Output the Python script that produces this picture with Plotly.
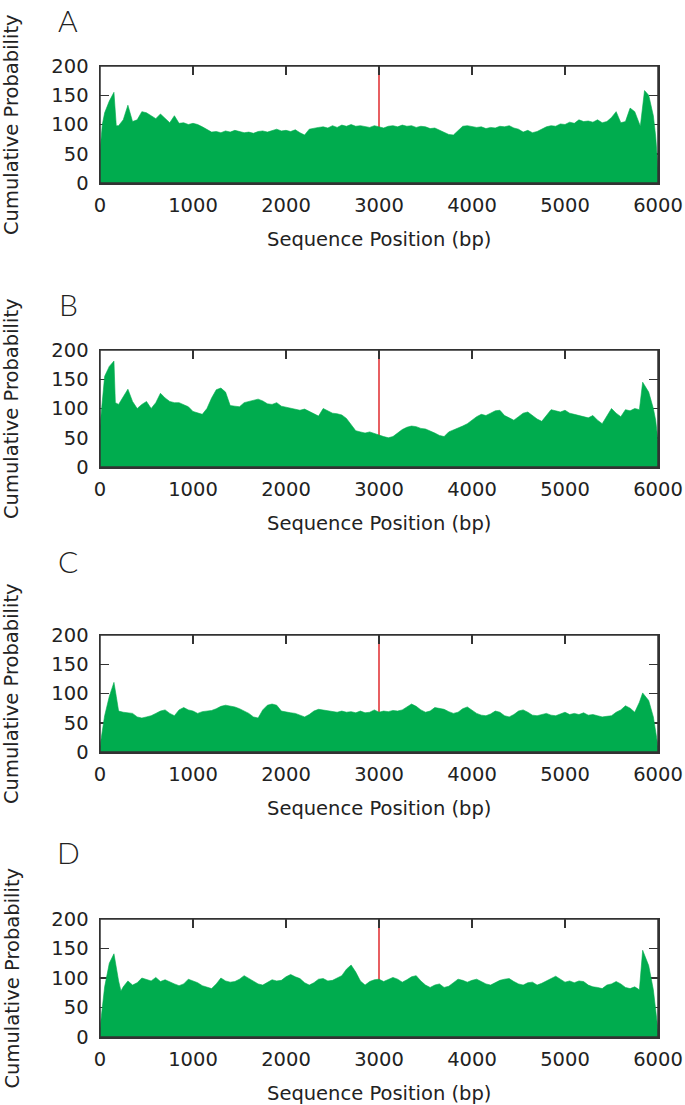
import plotly.graph_objects as go

# ---------------- data ----------------
pos_a = [0, 25, 50, 100, 150, 175, 200, 250, 300, 350, 400, 450, 500, 550, 600, 650, 700, 750, 800, 850,
         900, 950, 1000, 1050, 1100, 1150, 1200, 1250, 1300, 1350, 1400, 1450, 1500, 1550, 1600, 1650, 1700,
         1750, 1800, 1850, 1900, 1950, 2000, 2050, 2100, 2150, 2200, 2250, 2300, 2350, 2400, 2450, 2500,
         2550, 2600, 2650, 2700, 2750, 2800, 2850, 2900, 2950, 3000, 3050, 3100, 3150, 3200, 3250, 3300,
         3350, 3400, 3450, 3500, 3550, 3600, 3650, 3700, 3750, 3800, 3850, 3900, 3950, 4000, 4050, 4100,
         4150, 4200, 4250, 4300, 4350, 4400, 4450, 4500, 4550, 4600, 4650, 4700, 4750, 4800, 4850, 4900,
         4950, 5000, 5050, 5100, 5150, 5200, 5250, 5300, 5350, 5400, 5450, 5500, 5550, 5600, 5650, 5700,
         5750, 5810, 5855, 5900, 5950, 5975, 6000]
val_a = [55, 100, 120, 140, 155, 98, 98, 108, 133, 105, 108, 122, 120, 115, 110, 118, 110, 103, 115, 102,
         103, 100, 102, 100, 96, 92, 87, 88, 86, 89, 87, 90, 88, 86, 87, 85, 88,
         89, 87, 90, 92, 89, 90, 88, 91, 86, 82, 92, 94, 95, 96, 94, 98,
         95, 99, 97, 100, 97, 98, 96, 95, 98, 96, 94, 97, 98, 96, 99, 97,
         98, 95, 97, 96, 93, 94, 90, 87, 83, 82, 90, 97, 98, 97, 95, 96,
         93, 95, 94, 97, 96, 98, 94, 92, 87, 90, 86, 88, 92, 96, 98, 97,
         101, 100, 104, 102, 108, 105, 106, 104, 108, 103, 105, 112, 122, 103, 105, 128,
         122, 97, 158, 150, 115, 80, 25]

pos_b = [0, 25, 50, 100, 150, 165, 200, 250, 300, 350, 400, 450, 500, 550, 600, 650, 700, 750, 800, 850,
         900, 950, 1000, 1050, 1100, 1150, 1200, 1250, 1300, 1350, 1400, 1450, 1500, 1550, 1600, 1650, 1700,
         1750, 1800, 1850, 1900, 1950, 2000, 2050, 2100, 2150, 2200, 2250, 2300, 2350, 2400, 2450, 2500,
         2550, 2600, 2650, 2700, 2750, 2800, 2850, 2900, 2950, 3000, 3050, 3100, 3150, 3200, 3250, 3300,
         3350, 3400, 3450, 3500, 3550, 3600, 3650, 3700, 3750, 3800, 3850, 3900, 3950, 4000, 4050, 4100,
         4150, 4200, 4250, 4300, 4350, 4400, 4450, 4500, 4550, 4600, 4650, 4700, 4750, 4800, 4850, 4900,
         4950, 5000, 5050, 5100, 5150, 5200, 5250, 5300, 5350, 5400, 5450, 5500, 5550, 5600, 5650, 5700,
         5750, 5800, 5835, 5900, 5950, 5975, 6000]
val_b = [70, 120, 155, 172, 181, 110, 107, 120, 133, 112, 100, 107, 112, 100, 110, 126, 118, 112, 110, 110,
         107, 103, 95, 92, 90, 100, 118, 132, 135, 128, 105, 104, 103, 110, 112, 115, 116,
         113, 108, 107, 110, 104, 102, 101, 99, 97, 99, 95, 90, 87, 100, 96, 92,
         91, 89, 83, 72, 62, 60, 58, 60, 57, 55, 52, 50, 52, 58, 64, 68,
         70, 69, 66, 65, 62, 58, 54, 52, 60, 63, 66, 70, 74, 80, 86, 90,
         88, 92, 96, 97, 88, 84, 80, 86, 92, 94, 88, 82, 78, 88, 98, 96,
         94, 97, 92, 90, 88, 86, 84, 88, 80, 74, 86, 100, 92, 86, 98, 96,
         100, 98, 145, 128, 100, 80, 45]

pos_c = [0, 25, 50, 100, 150, 175, 200, 250, 300, 350, 400, 450, 500, 550, 600, 650, 700, 750, 800, 850,
         900, 950, 1000, 1050, 1100, 1150, 1200, 1250, 1300, 1350, 1400, 1450, 1500, 1550, 1600, 1650, 1700,
         1750, 1800, 1850, 1900, 1950, 2000, 2050, 2100, 2150, 2200, 2250, 2300, 2350, 2400, 2450, 2500,
         2550, 2600, 2650, 2700, 2750, 2800, 2850, 2900, 2950, 3000, 3050, 3100, 3150, 3200, 3250, 3300,
         3350, 3400, 3450, 3500, 3550, 3600, 3650, 3700, 3750, 3800, 3850, 3900, 3950, 4000, 4050, 4100,
         4150, 4200, 4250, 4300, 4350, 4400, 4450, 4500, 4550, 4600, 4650, 4700, 4750, 4800, 4850, 4900,
         4950, 5000, 5050, 5100, 5150, 5200, 5250, 5300, 5350, 5400, 5450, 5500, 5550, 5600, 5650, 5700,
         5750, 5800, 5835, 5900, 5950, 5975, 6000]
val_c = [10, 40, 62, 95, 119, 95, 70, 68, 67, 66, 60, 58, 60, 62, 66, 70, 72, 66, 62, 72,
         76, 72, 70, 66, 69, 70, 71, 74, 78, 80, 79, 77, 74, 70, 66, 60, 58,
         72, 80, 82, 80, 70, 68, 67, 66, 63, 60, 64, 70, 73, 72, 70, 69,
         68, 70, 68, 69, 67, 70, 67, 68, 72, 68, 70, 69, 71, 70, 72, 77,
         82, 78, 72, 68, 70, 76, 74, 73, 69, 66, 68, 74, 77, 72, 66, 63,
         62, 65, 70, 68, 62, 60, 64, 70, 72, 68, 63, 62, 64, 66, 63, 62,
         65, 68, 64, 66, 64, 67, 63, 64, 62, 60, 61, 62, 68, 72, 79, 75,
         68, 85, 101, 88, 60, 35, 10]

pos_d = [0, 25, 50, 100, 150, 200, 225, 250, 300, 350, 400, 450, 500, 550, 600, 650, 700, 750, 800, 850,
         900, 950, 1000, 1050, 1100, 1150, 1200, 1250, 1300, 1350, 1400, 1450, 1500, 1550, 1600, 1650, 1700,
         1750, 1800, 1850, 1900, 1950, 2000, 2050, 2100, 2150, 2200, 2250, 2300, 2350, 2400, 2450, 2500,
         2550, 2600, 2650, 2700, 2750, 2800, 2850, 2900, 2950, 3000, 3050, 3100, 3150, 3200, 3250, 3300,
         3350, 3400, 3450, 3500, 3550, 3600, 3650, 3700, 3750, 3800, 3850, 3900, 3950, 4000, 4050, 4100,
         4150, 4200, 4250, 4300, 4350, 4400, 4450, 4500, 4550, 4600, 4650, 4700, 4750, 4800, 4850, 4900,
         4950, 5000, 5050, 5100, 5150, 5200, 5250, 5300, 5350, 5400, 5450, 5500, 5550, 5600, 5650, 5700,
         5750, 5800, 5835, 5900, 5950, 5975, 6000]
val_d = [15, 50, 85, 125, 141, 95, 78, 85, 95, 88, 92, 100, 98, 95, 101, 94, 97, 93, 90, 87,
         90, 98, 95, 92, 87, 85, 82, 90, 100, 95, 93, 94, 98, 104, 99, 94, 90,
         88, 92, 97, 95, 96, 102, 106, 102, 99, 92, 88, 92, 98, 99, 95, 96,
         100, 104, 115, 122, 110, 95, 88, 94, 97, 98, 94, 97, 101, 98, 93, 97,
         102, 104, 95, 88, 84, 88, 90, 84, 86, 92, 98, 96, 93, 96, 98, 94,
         90, 88, 92, 96, 98, 99, 94, 90, 88, 92, 93, 88, 91, 95, 100, 103,
         98, 93, 95, 92, 95, 94, 88, 85, 84, 82, 88, 90, 94, 90, 84, 82,
         85, 80, 147, 121, 80, 50, 12]

panel_letters = ["A", "B", "C", "D"]
x_ticks = [0, 1000, 2000, 3000, 4000, 5000, 6000]
y_ticks = [0, 50, 100, 150, 200]
marker_pos = 3000
x_title = "Sequence Position (bp)"
y_title = "Cumulative Probability"

# ---------------- style / layout ----------------
W, H = 685, 1105
GREEN = "#00AC4E"
RED = "#E2373A"
AXC = "#333333"
TXT = "#222222"
FONT = "DejaVu Sans"
FS = 19.5

series = [(pos_a, val_a), (pos_b, val_b), (pos_c, val_c), (pos_d, val_d)]
tops = [66, 350, 635, 919]
bots = [183, 467, 752, 1037]
letter_top = [0, 284, 541, 832]
x_left, x_right = 100, 658


def px(x):
    return x / W


def py(y):
    return 1 - y / H


fig = go.Figure()
shapes = []
annotations = []
for i, (pos, val) in enumerate(series):
    sfx = "" if i == 0 else str(i + 1)
    fig.add_trace(go.Scatter(
        x=pos, y=val, mode="lines", fill="tozeroy",
        line=dict(color=GREEN, width=0.6), fillcolor=GREEN,
        xaxis="x" + sfx, yaxis="y" + sfx, showlegend=False, hoverinfo="skip"))
    common = dict(showline=True, mirror="ticks", linecolor=AXC, linewidth=1.5,
                  ticks="inside", ticklen=9, tickwidth=1.5, tickcolor=AXC,
                  showgrid=False, zeroline=False, layer="below traces", automargin=False,
                  tickfont=dict(family=FONT, size=FS, color=TXT))
    fig.layout["xaxis" + sfx] = dict(
        domain=[px(x_left), px(x_right)], range=[0, 6000], tickvals=x_ticks,
        anchor="y" + sfx, ticklabelstandoff=4, fixedrange=True, **common)
    fig.layout["yaxis" + sfx] = dict(
        domain=[py(bots[i]), py(tops[i])], range=[0, 200], tickvals=y_ticks,
        anchor="x" + sfx, ticklabelstandoff=6, fixedrange=True, **common)
    shapes.append(dict(type="line", xref="x" + sfx, yref="y" + sfx,
                       x0=marker_pos, x1=marker_pos, y0=0, y1=200, layer="below",
                       line=dict(color=RED, width=1.6)))
    shapes.append(dict(type="rect", xref="x" + sfx + " domain", yref="y" + sfx + " domain",
                       x0=0, x1=1, y0=0, y1=1, layer="above",
                       line=dict(color=AXC, width=1.5)))
    annotations.append(dict(text=panel_letters[i], x=px(68), y=py(letter_top[i]),
                            xref="paper", yref="paper", showarrow=False,
                            xanchor="center", yanchor="top",
                            font=dict(family="Lato", size=30, color=TXT, weight=300)))
    annotations.append(dict(text=x_title, x=px((x_left + x_right) / 2), y=py(bots[i] + 56),
                            xref="paper", yref="paper", showarrow=False,
                            xanchor="center", yanchor="middle",
                            font=dict(family=FONT, size=FS, color=TXT)))
    annotations.append(dict(text=y_title, x=px(11.5), y=py((tops[i] + bots[i]) / 2),
                            xref="paper", yref="paper", showarrow=False, textangle=-90,
                            xanchor="center", yanchor="middle",
                            font=dict(family=FONT, size=FS, color=TXT)))

fig.update_layout(width=W, height=H, margin=dict(l=0, r=0, t=0, b=0, autoexpand=False),
                  paper_bgcolor="white", plot_bgcolor="white", hovermode=False,
                  shapes=shapes, annotations=annotations, showlegend=False)
# remove the default 8 px page margin so the figure fills the window exactly
fig.write_html("out.html", config={"displayModeBar": False, "staticPlot": True},
               post_script="document.body.style.margin='0';")
